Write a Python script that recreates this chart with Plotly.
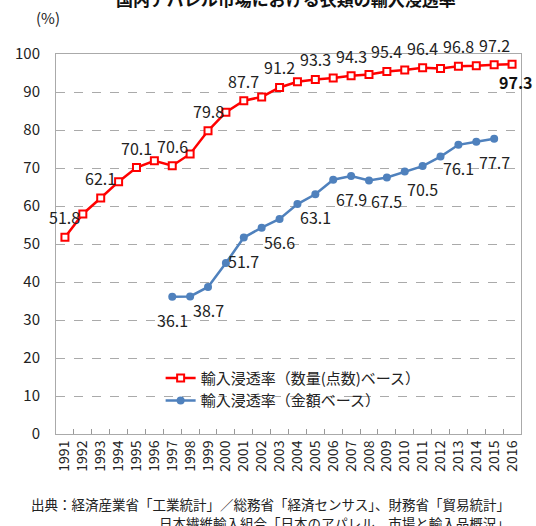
import plotly.graph_objects as go

years = [str(y) for y in range(1991, 2017)]

qty_rate = [51.8, 57.9, 62.1, 66.4, 70.1, 71.9, 70.6, 73.7, 79.8, 84.7, 87.7, 88.7, 91.2,
            92.7, 93.3, 93.7, 94.3, 94.6, 95.4, 95.8, 96.4, 96.2, 96.8, 96.9, 97.2, 97.3]

val_years = [str(y) for y in range(1997, 2016)]
val_rate = [36.1, 36.2, 38.7, 45.0, 51.7, 54.3, 56.6, 60.5, 63.1, 66.9, 67.9, 66.7, 67.5,
            69.1, 70.5, 73.0, 76.1, 76.9, 77.7]

qty_label_years = ["1991", "1993", "1995", "1997", "1999", "2001", "2003", "2005",
                   "2007", "2009", "2011", "2013", "2015"]
val_label_years = ["1997", "1999", "2001", "2003", "2005", "2007", "2009", "2011", "2013", "2015"]

title = "国内アパレル市場における衣類の輸入浸透率"
name_qty = "輸入浸透率（数量(点数)ベース）"
name_val = "輸入浸透率（金額ベース）"
source1 = "出典：経済産業省「工業統計」／総務省「経済センサス」、財務省「貿易統計」"
source2 = "日本繊維輸入組合「日本のアパレル　市場と輸入品概況」"

RED = "#ff0000"
BLUE = "#4f81bd"
FONT = "Noto Sans CJK JP"

fig = go.Figure()
fig.add_trace(go.Scatter(
    x=years, y=qty_rate, mode="lines+markers", name=name_qty,
    line=dict(color=RED, width=2.5),
    marker=dict(symbol="square", size=7, color="white", line=dict(color=RED, width=2)),
))
fig.add_trace(go.Scatter(
    x=val_years, y=val_rate, mode="lines+markers", name=name_val,
    line=dict(color=BLUE, width=2.5),
    marker=dict(symbol="circle", size=8, color=BLUE),
))

q_map = dict(zip(years, qty_rate))
v_map = dict(zip(val_years, val_rate))
label_font = dict(size=16, color="#222", family=FONT)
for y in qty_label_years:
    fig.add_annotation(xref="x", yref="y", x=years.index(y), y=q_map[y], text=f"{q_map[y]:.1f}",
                       showarrow=False, yshift=20, font=label_font)
fig.add_annotation(xref="x", yref="y", x=years.index("2016"), y=q_map["2016"],
                   text=f"<b>{q_map['2016']:.1f}</b>", showarrow=False, xanchor="center",
                   xshift=4, yshift=-18, font=dict(size=16, color="#111", family=FONT))
for y in val_label_years:
    fig.add_annotation(xref="x", yref="y", x=years.index(y), y=v_map[y], text=f"{v_map[y]:.1f}",
                       showarrow=False, yshift=-23, font=label_font)

fig.update_layout(
    width=536, height=526,
    margin=dict(l=56, r=15, t=54, b=92),
    paper_bgcolor="white", plot_bgcolor="white",
    font=dict(family=FONT, color="#222"),
    showlegend=True,
    legend=dict(x=0.225, y=0.19, xanchor="left", yanchor="top",
                bgcolor="rgba(0,0,0,0)", font=dict(size=15, color="#222"),
                tracegroupgap=0),
)
fig.update_xaxes(
    type="category", categoryorder="array", categoryarray=years,
    tickangle=-90, tickfont=dict(size=14, color="#222"),
    ticks="inside", tickson="boundaries", ticklen=5, tickcolor="#999",
    showline=True, mirror=True, linecolor="#aaa", linewidth=1,
    showgrid=False, range=[-0.5, 25.5], automargin=False,
)
fig.update_yaxes(
    range=[0, 100], dtick=10, tickfont=dict(size=15, color="#222"),
    showgrid=True, gridcolor="#aaa", griddash="dash", gridwidth=1,
    showline=True, mirror=True, linecolor="#aaa", linewidth=1,
    zeroline=False, ticks="", ticklabelstandoff=12, automargin=False,
)

fig.add_annotation(text=f"<b>{title}</b>", xref="paper", yref="paper",
                   x=(286 - 56) / 465, y=1 + (54 + 1) / 380, xanchor="center", yanchor="middle",
                   showarrow=False, font=dict(size=17, color="#111"))
fig.add_annotation(text="(%)", xref="paper", yref="paper",
                   x=(48 - 56) / 465, y=1 + (54 - 18) / 380, xanchor="center", yanchor="middle",
                   showarrow=False, font=dict(size=15, color="#222"))
fig.add_annotation(text=source1, xref="paper", yref="paper",
                   x=(512 - 56) / 465, y=-(504 - 434) / 380, xanchor="right", yanchor="middle",
                   showarrow=False, font=dict(size=13.5, color="#222"))
fig.add_annotation(text=source2, xref="paper", yref="paper",
                   x=(512 - 56) / 465, y=-(523 - 434) / 380, xanchor="right", yanchor="middle",
                   showarrow=False, font=dict(size=13.5, color="#222"))

fig.write_html("out.html", config={"displayModeBar": False},
               post_script="document.body.style.margin='0';document.body.style.overflow='hidden';")
